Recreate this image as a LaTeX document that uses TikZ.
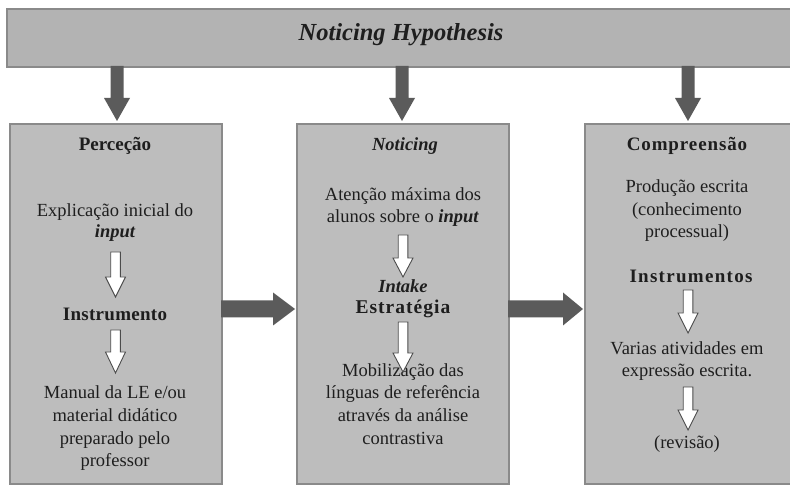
\documentclass[tikz,border=0pt]{standalone}
\usepackage{fontspec}
\setmainfont{Liberation Serif}
\definecolor{boxfill}{HTML}{BDBDBD}
\definecolor{boxline}{HTML}{8A8A8A}
\definecolor{barfill}{HTML}{B3B3B3}
\definecolor{darkarr}{HTML}{5B5B5B}
\definecolor{ink}{HTML}{1E1E1E}
% vertical down arrow: x, ytop, yhead, ytip, halfshaft, halfhead, style
\newcommand\downshape[7]{\draw[#7] (#1-#5,#2) -- (#1+#5,#2) -- (#1+#5,#3) -- (#1+#6,#3) -- (#1,#4) -- (#1-#6,#3) -- (#1-#5,#3) -- cycle;}
% horizontal right arrow: y, xstart, xhead, xtip, halfshaft, halfhead, style
\newcommand\rightshape[7]{\draw[#7] (#2,#1-#5) -- (#3,#1-#5) -- (#3,#1-#6) -- (#4,#1) -- (#3,#1+#6) -- (#3,#1+#5) -- (#2,#1+#5) -- cycle;}
\begin{document}
\begin{tikzpicture}[x=1pt,y=-1pt,
  box/.style={draw=boxline, line width=1.6pt, fill=boxfill, inner sep=0pt, anchor=north west},
  bar/.style={draw=boxline, line width=1.8pt, fill=barfill, inner sep=0pt, anchor=north west},
  txt/.style={anchor=base, inner sep=0pt, text=ink, font=\fontsize{18.5}{22.5}\selectfont},
  head/.style={anchor=base, inner sep=0pt, text=ink, font=\fontsize{19}{22.5}\selectfont\bfseries\addfontfeature{LetterSpace=#1}},
  head/.default=1,
  title/.style={anchor=base, inner sep=0pt, text=ink, font=\fontsize{24.5}{28}\selectfont\bfseries\itshape},
  darkfill/.style={fill=darkarr, draw=none},
  hollow/.style={fill=white, draw=ink!80, line width=0.9pt, line join=miter}]
\useasboundingbox (0,0) rectangle (790,486);
% top bar
\node[bar, minimum width=790pt, minimum height=58pt] (bar) at (6,8) {};
\node[title] (ttl) at (401,40.5) {Noticing Hypothesis};
% boxes
\node[box, minimum width=212pt, minimum height=360pt] (b1) at (9,123) {};
\node[box, minimum width=212pt, minimum height=360pt] (b2) at (296,123) {};
\node[box, minimum width=206pt, minimum height=360pt] (b3) at (584,123) {};
% dark arrows from bar
\downshape{117}{66}{98}{121}{6.5}{13}{darkfill}
\downshape{402}{66}{98}{121}{6.5}{13}{darkfill}
\downshape{688}{66}{98}{121}{6.5}{13}{darkfill}
% dark arrows between boxes
\rightshape{309}{221}{273}{295}{8.5}{16.5}{darkfill}
\rightshape{309}{508}{563}{583}{8.5}{16.5}{darkfill}
% box 1 text
\node[head=0] (p1) at (115,151) {Perceção};
\node[txt] (p2) at (115,216.5) {Explicação inicial do};
\node[txt, font=\fontsize{18.5}{22.5}\selectfont\bfseries\itshape] (p3) at (115,238) {input};
\node[head=1.5] (p4) at (115,320.5) {Instrumento};
\node[txt] (p5) at (115,399) {Manual da LE e/ou};
\node[txt] (p6) at (115,421.5) {material didático};
\node[txt] (p7) at (115,444) {preparado pelo};
\node[txt] (p8) at (115,466.5) {professor};
\downshape{115.5}{252}{277}{297}{4.8}{10}{hollow}
\downshape{115.5}{330}{352}{373}{4.8}{10}{hollow}
% box 2 text
\node[txt, font=\fontsize{18.5}{22.5}\selectfont\bfseries\itshape] (n1) at (405,150.5) {Noticing};
\node[txt] (n2) at (403,200.5) {Atenção máxima dos};
\node[txt] (n3) at (403,222.7) {alunos sobre o \textbf{\textit{input}}};
\node[txt, font=\fontsize{18.5}{22.5}\selectfont\bfseries\itshape] (n4) at (403,292.5) {Intake};
\node[head=5.3, font=\fontsize{19.5}{22.5}\selectfont\bfseries\addfontfeature{LetterSpace=5.3}] (n5) at (403,314) {Estratégia};
\node[txt] (n6) at (403,376.5) {Mobilização das};
\node[txt] (n7) at (403,399) {línguas de referência};
\node[txt] (n8) at (403,421.5) {através da análise};
\node[txt] (n9) at (403,444) {contrastiva};
\downshape{403}{235}{258}{277}{4.8}{10}{hollow}
\downshape{403}{322}{353}{372}{4.8}{10}{hollow}
% box 3 text
\node[head=4.7] (c1) at (687,150.5) {Compreensão};
\node[txt] (c2) at (687,193) {Produção escrita};
\node[txt] (c3) at (687,215.5) {(conhecimento};
\node[txt] (c4) at (687,238) {processual)};
\node[head=6.8] (c5) at (691,282.5) {Instrumentos};
\node[txt] (c6) at (687,355) {Varias atividades em};
\node[txt] (c7) at (687,377) {expressão escrita.};
\node[txt] (c8) at (687,448) {(revisão)};
\downshape{688}{290}{313}{333}{4.8}{10}{hollow}
\downshape{688}{387}{410}{430}{4.8}{10}{hollow}
\end{tikzpicture}
\end{document}
